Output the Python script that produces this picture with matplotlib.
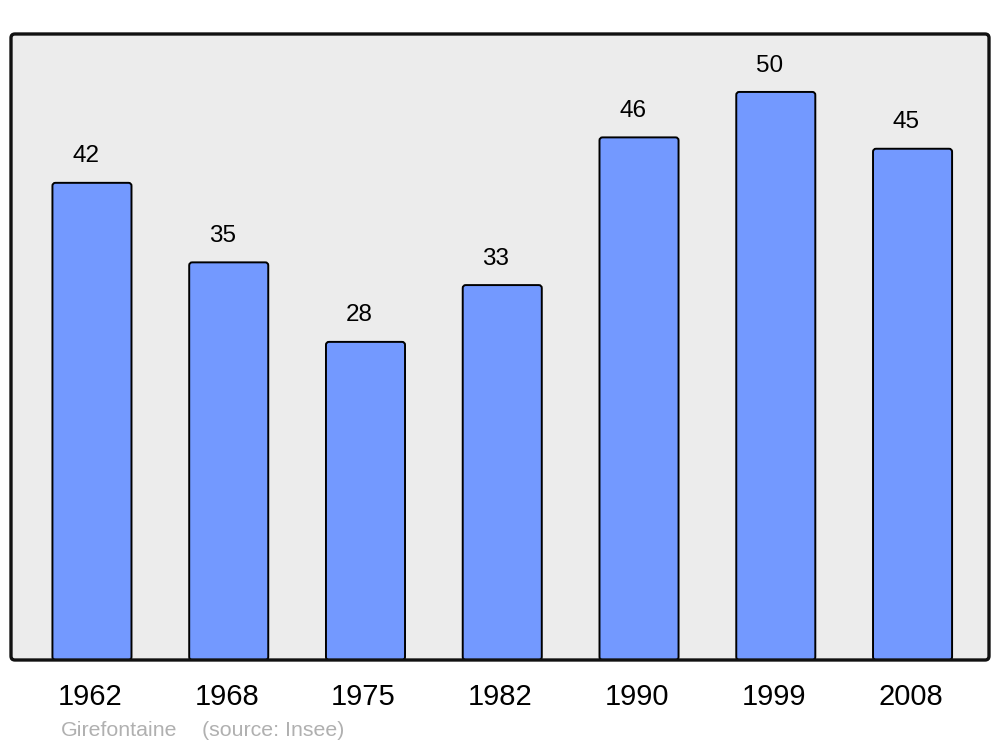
import matplotlib
matplotlib.use("Agg")
import matplotlib.pyplot as plt
import matplotlib.transforms as mtransforms
from matplotlib.patches import FancyBboxPatch

years = ["1962", "1968", "1975", "1982", "1990", "1999", "2008"]
population = [42, 35, 28, 33, 46, 50, 45]
commune = "Girefontaine"
source = "(source: Insee)"

plt.rcParams['font.family'] = ['Liberation Sans', 'DejaVu Sans']

fig = plt.figure(figsize=(10, 7.47), dpi=100)
ax = fig.add_axes([0.011, 87/747, 0.978, 626/747])
ax.set_facecolor('none')

x = list(range(len(years)))
bars = ax.bar(x, population, width=0.578, color='#7399ff', edgecolor='black', linewidth=1.4)
ax.set_xlim(-0.592, 6.559)
ax.set_ylim(0, 55.1)

# background with rounded frame
bg = FancyBboxPatch((0, 0), 1, 1, boxstyle="round,pad=0,rounding_size=0.004",
                    transform=ax.transAxes, facecolor='#ececec', edgecolor='none',
                    zorder=0, clip_on=False, mutation_aspect=978/626)
ax.add_patch(bg)
frame = FancyBboxPatch((0, 0), 1, 1, boxstyle="round,pad=0,rounding_size=0.004",
                       transform=ax.transAxes, facecolor='none', edgecolor='#111111',
                       linewidth=2.4, zorder=5, clip_on=False, mutation_aspect=978/626)
ax.add_patch(frame)

# rounded bars
for b in bars:
    bx, by = b.get_x(), b.get_y()
    w, h = b.get_width(), b.get_height()
    b.set_visible(False)
    p = FancyBboxPatch((bx, by), w, h, boxstyle="round,pad=0,rounding_size=0.022",
                       mutation_aspect=12.04, facecolor='#7399ff', edgecolor='black',
                       linewidth=1.4, zorder=3)
    ax.add_patch(p)

for xi, v in zip(x, population):
    ax.annotate(str(v), (xi, v), xytext=(-4.5, 19), textcoords='offset points',
                ha='center', va='center', fontsize=17.5, color='black')

for s in ax.spines.values():
    s.set_visible(False)
ax.set_yticks([])
ax.set_xticks(x)
ax.set_xticklabels(years, fontsize=21)
ax.tick_params(axis='x', length=0, pad=16.5)
shift = mtransforms.ScaledTranslation(-2/100, 0, fig.dpi_scale_trans)
for lbl in ax.get_xticklabels():
    lbl.set_transform(lbl.get_transform() + shift)

fig.text(61/1000, 1 - 730/747, commune, fontsize=15.4, color='#b0b0b0', va='center', ha='left')
fig.text(202/1000, 1 - 730/747, source, fontsize=15.4, color='#b0b0b0', va='center', ha='left')

fig.savefig("out.png", dpi=100, facecolor='white')
